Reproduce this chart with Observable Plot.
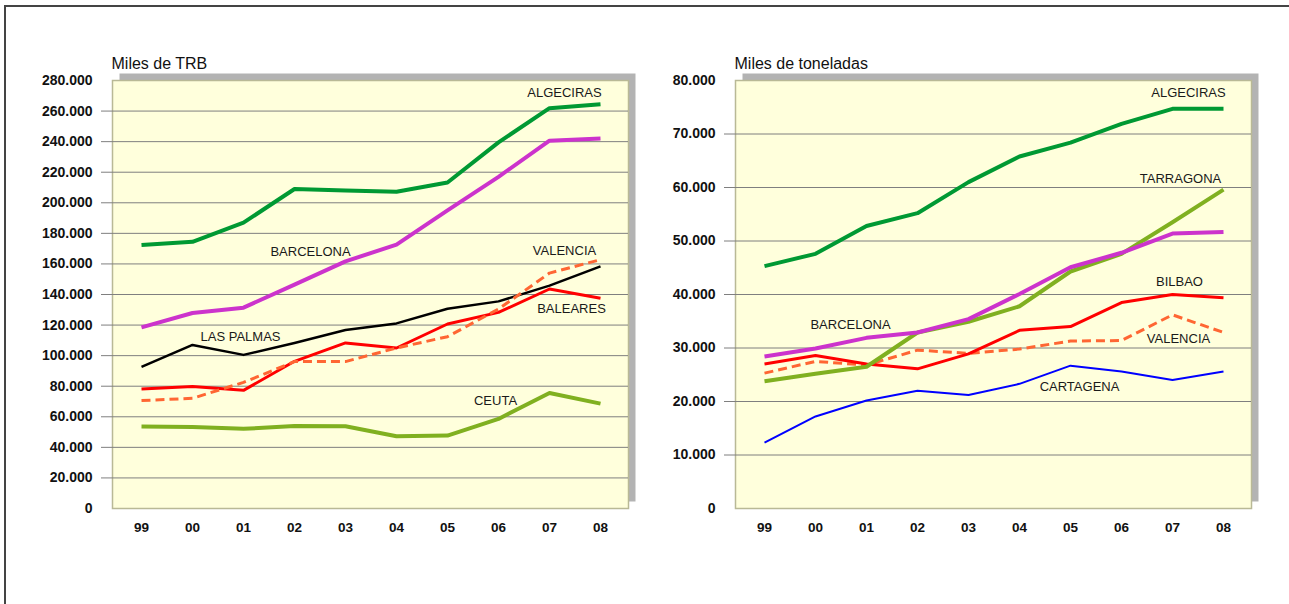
<!DOCTYPE html>
<html>
<head>
<meta charset="utf-8">
<script src="https://cdn.jsdelivr.net/npm/d3@7"></script>
<script src="https://cdn.jsdelivr.net/npm/@observablehq/plot@0.6"></script>
<style>
  html, body { margin: 0; padding: 0; background: #fff; }
  #page { position: relative; width: 1289px; height: 604px; overflow: hidden; background: #fff; }
  #border { position: absolute; left: 4px; top: 5px; width: 1400px; height: 800px; border-left: 2px solid #444; border-top: 2px solid #444; }
  .chart { position: absolute; top: 0; }
  #left { left: 0px; }
  #right { left: 623px; }
</style>
</head>
<body>
<div id="page">
  <div id="border"></div>
  <div id="left" class="chart"></div>
  <div id="right" class="chart"></div>
</div>
<script>
// ---- Data ----
const years = ["99", "00", "01", "02", "03", "04", "05", "06", "07", "08"];

// Left chart: Miles de TRB (values in units)
const trbAlgeciras = [172400, 174500, 187000, 209000, 208000, 207200, 213300, 239500, 261900, 264500];
const trbBarcelona = [118500, 127900, 131400, 146500, 161700, 172600, 195000, 217000, 240600, 242000];
const trbLasPalmas = [92600, 107000, 100500, 108300, 116800, 121100, 130700, 135500, 145800, 158400];
const trbBaleares  = [78200, 79800, 77300, 96300, 108300, 105000, 120700, 128300, 143600, 137500];
const trbValencia  = [70600, 72100, 82500, 96100, 96100, 105000, 112400, 130500, 154000, 162800];
const trbCeuta     = [53600, 53300, 52100, 54000, 53800, 47300, 47700, 58600, 75600, 68600];

// Right chart: Miles de toneladas (values in units)
const tonAlgeciras = [45300, 47600, 52800, 55200, 61000, 65800, 68400, 71900, 74700, 74700];
const tonTarragona = [23800, 25200, 26500, 32900, 34900, 37800, 44300, 47600, 53500, 59600];
const tonBarcelona = [28400, 29900, 31900, 32900, 35400, 40100, 45100, 47800, 51400, 51700];
const tonBilbao    = [27000, 28600, 27000, 26100, 28900, 33300, 34000, 38500, 40000, 39400];
const tonValencia  = [25300, 27500, 26800, 29600, 29000, 29800, 31300, 31400, 36200, 32900];
const tonCartagena = [12300, 17200, 20200, 22000, 21200, 23300, 26700, 25600, 24000, 25600];

const leftTicks = [0, 20000, 40000, 60000, 80000, 100000, 120000, 140000, 160000, 180000, 200000, 220000, 240000, 260000, 280000];
const rightTicks = [0, 10000, 20000, 30000, 40000, 50000, 60000, 70000, 80000];

// Series definitions (name, values, style key)
const leftSeries = [
  {name: "ALGECIRAS", values: trbAlgeciras, style: "algeciras"},
  {name: "BARCELONA", values: trbBarcelona, style: "barcelona"},
  {name: "LAS PALMAS", values: trbLasPalmas, style: "black"},
  {name: "CEUTA", values: trbCeuta, style: "olive"},
  {name: "BALEARES", values: trbBaleares, style: "red"},
  {name: "VALENCIA", values: trbValencia, style: "dashed"}
];
const rightSeries = [
  {name: "ALGECIRAS", values: tonAlgeciras, style: "algeciras"},
  {name: "CARTAGENA", values: tonCartagena, style: "blue"},
  {name: "VALENCIA", values: tonValencia, style: "dashed"},
  {name: "BILBAO", values: tonBilbao, style: "red"},
  {name: "TARRAGONA", values: tonTarragona, style: "olive"},
  {name: "BARCELONA", values: tonBarcelona, style: "barcelona"}
];

// Label anchors (category, value) with small pixel nudges
const leftLabels = [
  {text: "ALGECIRAS", x: "07", y: 272000, dx: 15},
  {text: "BARCELONA", x: "02", y: 168000, dx: 16},
  {text: "LAS PALMAS", x: "01", y: 112400, dx: -3},
  {text: "VALENCIA", x: "07", y: 168700, dx: 15},
  {text: "BALEARES", x: "07", y: 130700, dx: 22},
  {text: "CEUTA", x: "06", y: 70600, dx: -3}
];
const rightLabels = [
  {text: "ALGECIRAS", x: "07", y: 77650, dx: 16},
  {text: "TARRAGONA", x: "07", y: 61600, dx: 8},
  {text: "BILBAO", x: "07", y: 42400, dx: 7},
  {text: "BARCELONA", x: "01", y: 34400, dx: -16},
  {text: "VALENCIA", x: "07", y: 31700, dx: 6},
  {text: "CARTAGENA", x: "05", y: 22700, dx: 9}
];

const styles = {
  algeciras: {stroke: "#009933", strokeWidth: 4},
  barcelona: {stroke: "#cc33cc", strokeWidth: 4},
  black:     {stroke: "#000000", strokeWidth: 2.5},
  olive:     {stroke: "#80b020", strokeWidth: 4},
  red:       {stroke: "#ff0000", strokeWidth: 3},
  dashed:    {stroke: "#ff6633", strokeWidth: 3, strokeDasharray: "9,5"},
  blue:      {stroke: "#0000ff", strokeWidth: 2}
};

const fmt = v => v === 0 ? "0" : d3.format(",")(v).replace(/,/g, ".");
const FONT = "'Liberation Sans', Arial, Helvetica, sans-serif";

function build(series, labels, maxY, ticks, title) {
  const inner = ticks.filter(t => t > 0 && t < maxY);
  const lineMarks = series.map(s => {
    const rows = years.map((yr, i) => ({year: yr, value: s.values[i]}));
    const st = styles[s.style];
    return Plot.line(rows, {x: "year", y: "value", stroke: st.stroke, strokeWidth: st.strokeWidth,
      strokeDasharray: st.strokeDasharray, strokeLinejoin: "round", strokeLinecap: "butt"});
  });
  const labelMarks = labels.map(l => Plot.text([l], {x: "x", y: "y", text: "text", dx: l.dx, fontSize: 13, fill: "#1a1a1a", textAnchor: "middle"}));
  return Plot.plot({
    width: 640,
    height: 560,
    marginLeft: 112,
    marginRight: 12,
    marginTop: 80,
    marginBottom: 52,
    style: {fontFamily: FONT, background: "transparent", overflow: "visible", color: "#111"},
    x: {type: "point", domain: years, padding: 0.5},
    y: {domain: [0, maxY]},
    marks: [
      Plot.frame({fill: "#b3b3b3", insetTop: -7, insetRight: -7, insetBottom: 7, insetLeft: 7}),
      Plot.frame({fill: "#ffffdc", stroke: "#b9b996", strokeWidth: 1.5}),
      Plot.ruleY(inner, {stroke: "#7f7f7f", strokeWidth: 1}),
      Plot.axisY({ticks: inner, tickSize: 11, stroke: "#7f7f7f", tickFormat: () => "", label: null}),
      Plot.axisY({ticks: ticks, tickSize: 0, tickPadding: 20, tickFormat: fmt, fontWeight: "bold", fontSize: 14, fill: "#111", label: null}),
      Plot.axisX({tickSize: 0, tickPadding: 14, fontWeight: "bold", fontSize: 13.5, fill: "#111", label: null}),
      ...lineMarks,
      ...labelMarks,
      Plot.text([title], {frameAnchor: "top-left", text: d => d, dy: -17, dx: -1, fontSize: 16, fill: "#111", textAnchor: "start", lineAnchor: "middle"})
    ]
  });
}

document.getElementById("left").appendChild(build(leftSeries, leftLabels, 280000, leftTicks, "Miles de TRB"));
document.getElementById("right").appendChild(build(rightSeries, rightLabels, 80000, rightTicks, "Miles de toneladas"));
</script>
</body>
</html>
